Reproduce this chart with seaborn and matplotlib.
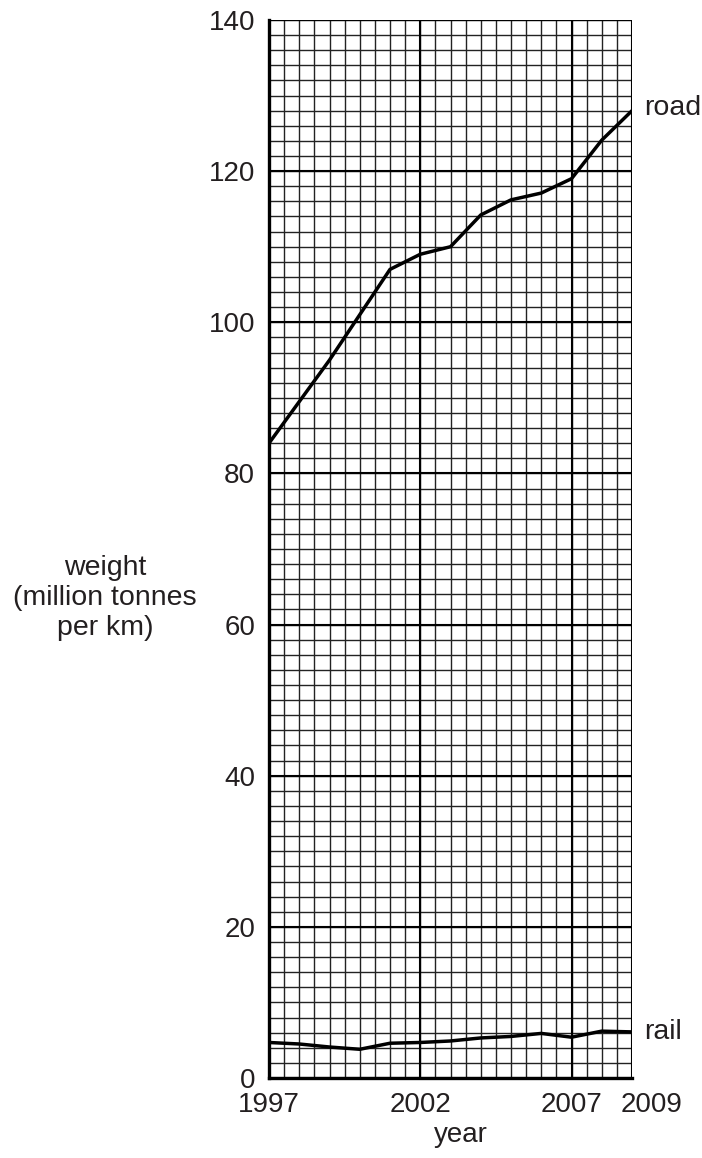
import numpy as np
import pandas as pd
import matplotlib
matplotlib.use("Agg")
import matplotlib.pyplot as plt
import matplotlib.transforms as mtransforms
import seaborn as sns

# dados
anos = [1997, 1998, 1999, 2000, 2001, 2002, 2003, 2004, 2005, 2006, 2007, 2008, 2009]
road = [84, 89.5, 95, 101, 107, 109, 110, 114.2, 116.2, 117.1, 119, 124.1, 128]
rail = [4.7, 4.5, 4.1, 3.8, 4.6, 4.7, 4.9, 5.3, 5.5, 5.9, 5.4, 6.2, 6.1]

xtick_labels = ["1997", "2002", "2007", "2009"]
ytick_vals = [0, 20, 40, 60, 80, 100, 120, 140]

df = pd.DataFrame({"year": anos * 2,
                   "weight": road + rail,
                   "tipo": ["road"] * len(anos) + ["rail"] * len(anos)})

sns.set_style("white")
plt.rcParams["font.family"] = ["Liberation Sans", "DejaVu Sans"]
cor_txt = "#231f20"
fs = 20.5

fig = plt.figure(figsize=(7.02, 11.58), dpi=100)
ax = fig.add_axes([269 / 702, 1 - 1078 / 1158, (632 - 269) / 702, (1078 - 20) / 1158])

# grade milimetrada
for x in np.arange(1997, 2009.01, 0.5):
    ax.axvline(x, color="#222222", lw=1.0, zorder=0)
for y in np.arange(0, 140.01, 2):
    ax.axhline(y, color="#222222", lw=1.0, zorder=0)
for x in [1997, 2002, 2007, 2009]:
    ax.axvline(x, color="black", lw=1.5, zorder=0)
for y in ytick_vals:
    ax.axhline(y, color="black", lw=1.5, zorder=0)

sns.lineplot(data=df, x="year", y="weight", units="tipo", estimator=None,
             color="black", lw=2.5, ax=ax, zorder=3)

ax.set_xlim(1997, 2009)
ax.set_ylim(0, 140)

for s in ["top", "right"]:
    ax.spines[s].set_visible(False)
for s in ["left", "bottom"]:
    ax.spines[s].set_linewidth(2.4)
    ax.spines[s].set_color("black")

ax.set_xticks(range(1997, 2010))
ax.set_xticklabels([str(a) if str(a) in xtick_labels else "" for a in range(1997, 2010)])
ax.set_yticks(ytick_vals)
ax.set_yticklabels([str(v) for v in ytick_vals])
ax.tick_params(axis="x", direction="out", length=10, width=2, pad=0,
               labelsize=20, labelcolor=cor_txt)
ax.tick_params(axis="y", direction="out", length=8, width=2, pad=2,
               labelsize=20, labelcolor=cor_txt)

# 2009 fica um pouco deslocado para a direita no original
lbl = ax.get_xticklabels()[-1]
lbl.set_transform(lbl.get_transform() + mtransforms.ScaledTranslation(0.2, 0, fig.dpi_scale_trans))

ax.set_xlabel("year", fontsize=20, color=cor_txt, labelpad=3)
ax.xaxis.label.set_x(0.53)
ax.set_ylabel("")
fig.text(105 / 702, 1 - 598 / 1158, "weight\n(million tonnes\nper km)",
         ha="center", va="center", multialignment="center",
         fontsize=fs, color=cor_txt, linespacing=1.2)

ax.annotate("road", xy=(2009, road[-1]), xytext=(9, 2), textcoords="offset points",
            va="center", ha="left", fontsize=fs, color=cor_txt, annotation_clip=False)
ax.annotate("rail", xy=(2009, rail[-1]), xytext=(9, 0), textcoords="offset points",
            va="center", ha="left", fontsize=fs, color=cor_txt, annotation_clip=False)

fig.savefig("out.png", dpi=100)
